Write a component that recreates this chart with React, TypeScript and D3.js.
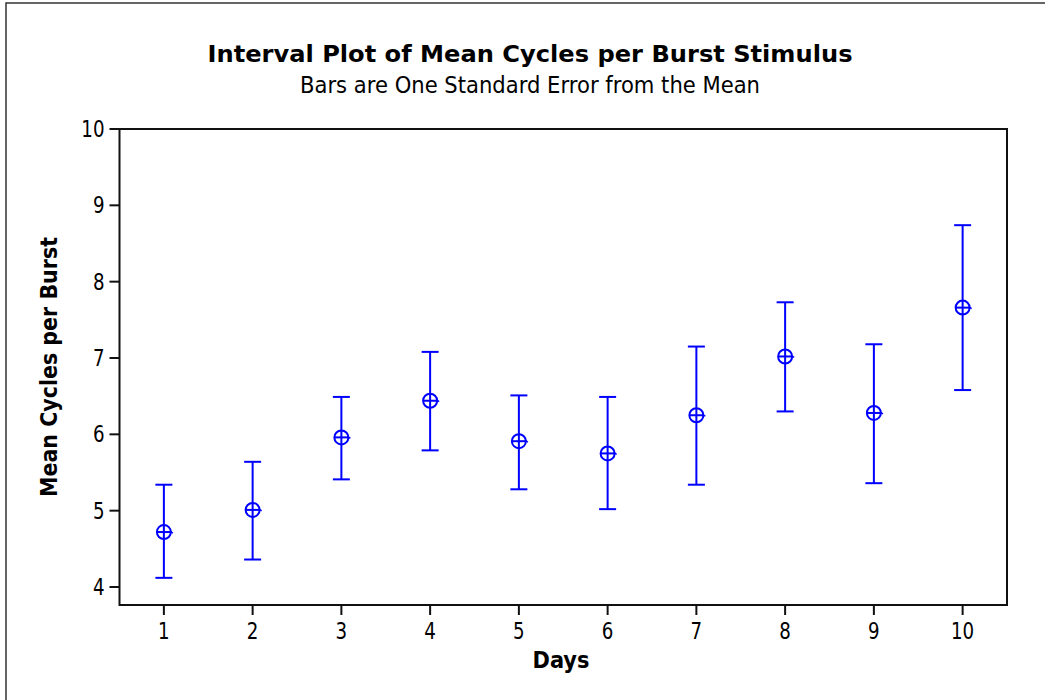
import React from "react";
import * as d3 from "d3";

const days = [1, 2, 3, 4, 5, 6, 7, 8, 9, 10];
const means = [4.72, 5.01, 5.96, 6.44, 5.91, 5.75, 6.25, 7.02, 6.28, 7.66];
const uppers = [5.34, 5.64, 6.49, 7.08, 6.51, 6.49, 7.15, 7.73, 7.18, 8.74];
const lowers = [4.12, 4.36, 5.41, 5.79, 5.28, 5.02, 5.34, 6.3, 5.36, 6.58];
const yTicks = [4, 5, 6, 7, 8, 9, 10];

const title = "Interval Plot of Mean Cycles per Burst Stimulus";
const subtitle = "Bars are One Standard Error from the Mean";
const xTitle = "Days";
const yTitle = "Mean Cycles per Burst";

export default function App() {
  const W = 1045, H = 700;
  const left = 119.5, right = 1007, top = 129, bottom = 605;
  const x = d3.scaleLinear().domain([0.5, 10.5]).range([left, right]);
  const y = d3.scaleLinear().domain([4, 10]).range([587, top]);
  const font = "'DejaVu Sans', Verdana, sans-serif";
  const blue = "#0000ff";
  const cap = 8.5;
  const r = 7;
  const digitW = 11.6;
  return (
    <svg width={W} height={H} style={{ position: "absolute", left: 0, top: 0 }} fontFamily={font}>
      <rect x={0} y={0} width={W} height={H} fill="#fff" />
      <rect x={6} y={3} width={W + 20} height={H + 20} fill="none" stroke="#333" strokeWidth={1.5} />
      <text x={530} y={62} textAnchor="middle" fontSize={23.5} fontWeight="bold" textLength={645} lengthAdjust="spacingAndGlyphs">{title}</text>
      <text x={530} y={93} textAnchor="middle" fontSize={23} textLength={460} lengthAdjust="spacingAndGlyphs">{subtitle}</text>
      <rect x={left} y={top} width={right - left} height={bottom - top} fill="none" stroke="#111" strokeWidth={2} />
      {yTicks.map((t) => (
        <g key={"y" + t}>
          <line x1={left - 10} x2={left} y1={y(t)} y2={y(t)} stroke="#111" strokeWidth={2} />
          <text x={104.5} y={y(t) + 8} textAnchor="end" fontSize={22.5} textLength={String(t).length * digitW} lengthAdjust="spacingAndGlyphs">{t}</text>
        </g>
      ))}
      {days.map((d) => (
        <g key={"x" + d}>
          <line x1={x(d)} x2={x(d)} y1={bottom} y2={bottom + 10} stroke="#111" strokeWidth={2} />
          <text x={x(d)} y={638.5} textAnchor="middle" fontSize={22.5} textLength={String(d).length * digitW} lengthAdjust="spacingAndGlyphs">{d}</text>
        </g>
      ))}
      <text x={561} y={668} textAnchor="middle" fontSize={23} fontWeight="bold" textLength={57} lengthAdjust="spacingAndGlyphs">{xTitle}</text>
      <text transform={`translate(57, ${(top + bottom) / 2}) rotate(-90)`} textAnchor="middle" fontSize={23} fontWeight="bold" textLength={260} lengthAdjust="spacingAndGlyphs">{yTitle}</text>
      {days.map((d, i) => {
        const cx = x(d), cy = y(means[i]);
        return (
          <g key={"p" + d} stroke={blue} strokeWidth={2} fill="none">
            <line x1={cx} x2={cx} y1={y(uppers[i])} y2={y(lowers[i])} />
            <line x1={cx - cap} x2={cx + cap} y1={y(uppers[i])} y2={y(uppers[i])} />
            <line x1={cx - cap} x2={cx + cap} y1={y(lowers[i])} y2={y(lowers[i])} />
            <circle cx={cx} cy={cy} r={r} />
            <line x1={cx - r} x2={cx + r} y1={cy} y2={cy} />
            <line x1={cx + r - 1} x2={cx + r + 2} y1={cy - 1} y2={cy + 1} strokeWidth={1.5} />
          </g>
        );
      })}
    </svg>
  );
}
